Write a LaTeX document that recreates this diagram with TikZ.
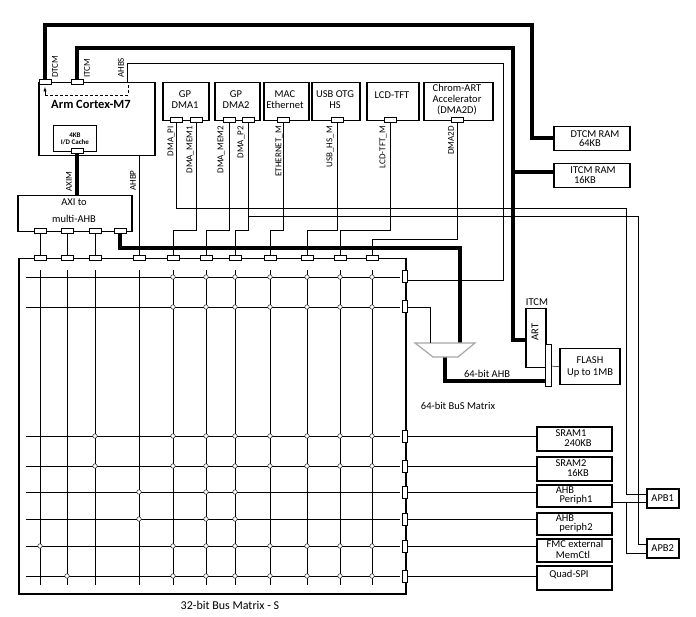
\documentclass[tikz,border=0pt]{standalone}
\usepackage{fontspec}
\setmainfont{Carlito}
\usetikzlibrary{positioning}
\begin{document}
\begin{tikzpicture}[x=1pt,y=-1pt,font=\fontsize{10.5}{10.5}\selectfont]
	\tikzstyle{box} = [draw, line width=0.15em, inner sep=0pt, align=center]
	\tikzstyle{bus} = [line width=0.35em]
	\tikzstyle{wire} = [line width=0.05em]
	\tikzstyle{dot} = [draw, fill=white, circle, inner sep=0pt, minimum size=4.5pt]
	\useasboundingbox (0,0) rectangle (696,617);

	% core and bridge
	\node[box, minimum width=116, minimum height=73, anchor=north west] (cpu) at (38,82) {};
	\node[font=\fontsize{12.5}{12}\selectfont\bfseries] at (91,104) {Arm Cortex-M7};
	\node[box, line width=0.08em, minimum width=43, minimum height=26, anchor=north west, font=\fontsize{7}{7}\selectfont\bfseries] (cache) at (53,125) {4KB\\I/D Cache};
	\node[box, minimum width=114, minimum height=36, anchor=north west] (axi) at (17,195) {};
	\node at (74,202) {AXI to};
	\node at (74,219) {multi-AHB};

	% masters
	\foreach \name/\xa/\xb in {dmaa/162/208, dmab/214/259, mac/263/308, usb/311/359, lcd/366/418, art2d/423/492}
		\node[box, minimum width=\xb-\xa, minimum height=38, anchor=north west] (\name) at (\xa,82) {};
	\node at (185,94) {GP}; \node at (185,105) {DMA1};
	\node at (236,94) {GP}; \node at (236,105) {DMA2};
	\node at (285,94) {MAC}; \node at (285,105) {Ethernet};
	\node at (335,94) {USB OTG}; \node at (335,105) {HS};
	\node at (392,95) {LCD-TFT};
	\node at (457,88) {Chrom-ART}; \node at (457,99) {Accelerator}; \node at (457,110) {(DMA2D)};

	% memories and slaves
	\node[box, minimum width=76, minimum height=24, anchor=north west] (dtcm) at (553,126) {};
	\node at (595,134) {DTCM RAM}; \node at (590,143) {64KB};
	\node[box, minimum width=76, minimum height=24, anchor=north west] (itcm) at (553,163) {};
	\node at (593,170) {ITCM RAM}; \node at (585,180) {16KB};
	\node[box, minimum width=20, minimum height=59, anchor=north west] (art) at (525,308) {};
	\node[rotate=90] at (535,332) {ART};
	\node at (537,302) {ITCM};
	\node[box, minimum width=60, minimum height=36, anchor=north west] (flash) at (559,348) {};
	\node at (590,360) {FLASH}; \node at (590,373) {Up to 1MB};
	\foreach \name/\ya/\yb in {sramA/426/450, sramB/456/480, ahbA/484/506, ahbB/512/534, fmc/538/561, qspi/565/589}
		\node[box, minimum width=75, minimum height=\yb-\ya, anchor=north west] (\name) at (536,\ya) {};
	\node at (571,433) {SRAM1}; \node at (578,443) {240KB};
	\node at (571,463) {SRAM2}; \node at (578,473) {16KB};
	\node at (565,490) {AHB}; \node at (576,500) {Periph1};
	\node at (565,518) {AHB}; \node at (576,528) {periph2};
	\node at (575,544) {FMC external}; \node at (573,555) {MemCtl};
	\node at (569,575) {Quad-SPI};
	\node[box, minimum width=32, minimum height=19, anchor=north west] (apba) at (646,488) {APB1};
	\node[box, minimum width=32, minimum height=19, anchor=north west] (apbb) at (646,538) {APB2};

	% bus matrix
	\node[box, minimum width=387, minimum height=335, anchor=north west] (mtx) at (18,258) {};
	\foreach \y in {277,307,436,466,492,519,546,576}
		\draw[wire] (26,\y) -- (400,\y);
	\foreach \x in {40,67,95,139,173,206,235,270,307,340,372}
		\draw[wire] (\x,270) -- (\x,585);
	\foreach \y in {277,307,436,466,546,576}
		\foreach \x in {173,206,235,270,307,340,372}
			\node[dot] at (\x,\y) {};
	\foreach \x/\y in {95/436, 95/466, 139/492, 206/492, 235/492, 139/519, 206/519, 235/519, 40/546, 67/576}
		\node[dot] at (\x,\y) {};
	\node at (230,605) {\fontsize{12}{12}\selectfont 32-bit Bus Matrix - S};
	\node at (458,406) {64-bit BuS Matrix};

	% buses
	\draw[bus] (45,82) -- (45,25) -- (532,25) -- (532,138) -- (dtcm.west |- 0,138);
	\draw[bus] (77,82) -- (77,48) -- (513,48) -- (513,340) -- (art.west |- 0,340);
	\draw[bus] (513,172) -- (itcm.west |- 0,172);
	\draw[bus] (77,151) -- (axi.north -| 77,0);
	\draw[bus] (120,231) -- (120,248) -- (460,248) -- (460,343);
	\draw[bus] (445,357) -- (445,381) -- (548,381);
	\draw[wire, fill=white, draw=gray!70, line width=0.12em] (415,343) -- (475,343) -- (458,357) -- (433,357) -- cycle;

	% thin wires
	\draw[wire] (127,82) -- (127,63) -- (503,63) -- (503,280) -- (405,280);
	\draw[wire, densely dashed] (45,95) -- (128,95) -- (128,82);
	\draw[-latex, wire] (45,95) -- (45,87);
	\draw[wire] (139,155) -- (139,258);
	\foreach \x in {40,67,95}
		\draw[wire] (\x,231) -- (\x,258);
	\draw[wire] (405,307) -- (430,307) -- (430,343);
	\draw[wire] (551,366) -- (flash.west);
	\draw[wire] (176,120) -- (176,208) -- (626,208) -- (626,494) -- (apba.west |- 0,494);
	\draw[wire] (248,120) -- (248,216) -- (638,216) -- (638,544) -- (apbb.west |- 0,544);
	\draw[wire] (ahbA.east |- 0,502) -- (apba.west |- 0,502);
	\draw[wire] (626,502) -- (626,553) -- (apbb.west |- 0,553);
	\foreach \xa/\xb/\y in {196/173/230, 229/206/230, 248/235/230, 283/270/230, 337/307/230, 390/340/230, 457/372/239}
		\draw[wire] (\xa,120) -- (\xa,\y) -- (\xb,\y) -- (\xb,258);
	\foreach \y/\name in {436/sramA, 466/sramB, 492/ahbA, 519/ahbB, 546/fmc, 576/qspi}
		\draw[wire] (405,\y) -- (\name.west |- 0,\y);

	% ports
	\foreach \x/\y in {45/82, 77/82, 77/151, 40/231, 67/231, 95/231, 120/231, 176/120, 196/120, 229/120, 248/120,
		283/120, 337/120, 390/120, 457/120, 40/258, 67/258, 95/258, 139/258, 173/258, 206/258, 235/258, 270/258, 307/258, 340/258, 372/258}
		\draw[wire, fill=white, line width=0.1em] (\x-6,\y-2.5) rectangle (\x+6,\y+2.5);
	\foreach \y in {277,307,436,466,492,519,546,576}
		\draw[wire, fill=white, line width=0.1em] (402,\y-6) rectangle (407,\y+6);
	\draw[wire, fill=white] (545,344) rectangle (551,386);

	% labels
	\foreach \x/\y/\txt in {55/79/DTCM, 87/79/ITCM, 121/79/AHBS, 69/193/AXIM, 133/192/AHBP}
		\node[rotate=90, anchor=west, inner sep=1pt, font=\fontsize{9}{9}\selectfont] at (\x,\y) {\txt};
	\foreach \x/\y/\txt in {171/125/DMA\_PI, 190/125/DMA\_MEM1, 221/125/DMA\_MEM2, 241/125/DMA\_P2,
		279/125/ETHERNET\_M, 330/125/USB\_HS\_M, 383/125/LCD-TFT\_M, 451/125/DMA2D}
		\node[rotate=90, anchor=east, inner sep=1pt, font=\fontsize{9}{9}\selectfont] at (\x,\y) {\txt};
	\node at (487,374) {64-bit AHB};
\end{tikzpicture}
\end{document}
